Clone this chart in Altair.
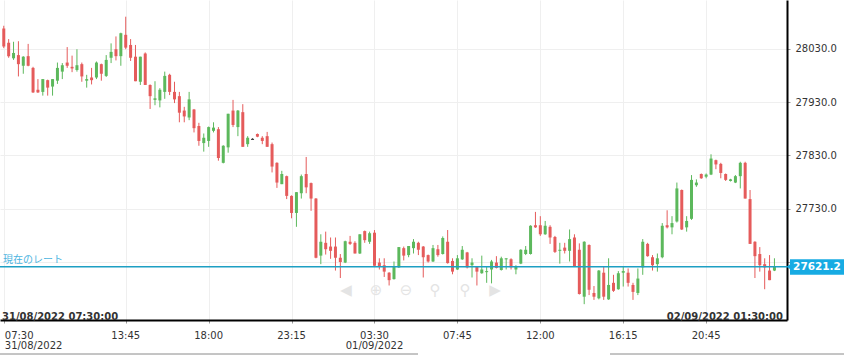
import altair as alt
import pandas as pd

# ---- candle data (15-minute bars, index 1..159) ----
opens = [28068,28041,28012,28018,27998,28016,27994,27953,27949,27971,27959,27970,27987,28004,27996,27990,28001,27970,27976,27976,
         28001,27979,28013,28029,28016,28056,28037,28015,27968,28021,27962,27934,27933,27949,27981,27949,27941,27914,27901,27916,
         27885,27853,27857,27876,27879,27816,27845,27914,27883,27911,27851,27861,27870,27863,27866,27851,27816,27776,27791,27754,
         27722,27759,27795,27778,27749,27642,27666,27659,27659,27638,27629,27668,27666,27646,27688,27668,27685,27629,27624,27610,
         27598,27620,27656,27643,27656,27666,27659,27643,27631,27654,27645,27668,27632,27616,27635,27648,27624,27621,27609,27612,
         27616,27629,27615,27636,27635,27616,27627,27645,27645,27699,27699,27682,27696,27677,27651,27657,27651,27676,27653,27565,
         27662,27572,27562,27610,27560,27591,27579,27610,27610,27587,27572,27620,27664,27639,27626,27639,27699,27695,27706,27765,
         27695,27711,27774,27795,27790,27794,27821,27814,27795,27782,27779,27791,27816,27748,27668,27645,27626,27614,27614]
highs = [28073,28048,28043,28044,28016,28039,27996,27973,27973,27972,27973,28004,28003,28033,28017,28029,28004,27981,27994,28006,
         28002,28018,28040,28053,28060,28090,28048,28037,28015,28023,27963,27969,27956,27987,27983,27968,27949,27921,27949,27917,
         27891,27871,27884,27892,27883,27849,27908,27934,27915,27926,27866,27862,27871,27866,27874,27854,27817,27801,27792,27755,
         27761,27794,27827,27779,27750,27682,27687,27676,27676,27645,27670,27679,27669,27682,27689,27687,27690,27637,27637,27611,
         27631,27658,27659,27660,27673,27668,27660,27644,27662,27662,27678,27690,27637,27643,27660,27649,27637,27622,27642,27621,
         27634,27641,27640,27637,27637,27624,27654,27660,27699,27724,27716,27707,27699,27679,27666,27666,27691,27682,27665,27669,
         27663,27585,27615,27622,27637,27606,27613,27622,27618,27591,27618,27673,27666,27643,27646,27703,27727,27716,27779,27766,
         27716,27793,27785,27796,27796,27832,27822,27816,27796,27786,27793,27818,27818,27765,27669,27658,27637,27643,27637]
lows = [28031,28013,28009,27978,27983,27997,27947,27947,27942,27942,27942,27964,27973,27994,27986,27987,27968,27957,27963,27973,
        27970,27977,28003,28008,27998,28029,28007,27969,27962,27962,27917,27924,27920,27936,27943,27928,27892,27892,27896,27873,
        27848,27837,27846,27873,27820,27815,27835,27883,27866,27846,27846,27860,27864,27851,27846,27798,27769,27776,27748,27712,
        27696,27749,27759,27726,27637,27626,27644,27636,27614,27600,27628,27662,27646,27645,27666,27664,27623,27616,27602,27586,
        27597,27619,27633,27639,27646,27643,27601,27629,27630,27640,27644,27627,27607,27615,27634,27618,27601,27586,27608,27591,
        27590,27618,27614,27616,27616,27607,27626,27643,27644,27694,27679,27681,27664,27647,27627,27646,27631,27621,27569,27551,
        27568,27559,27560,27559,27559,27574,27578,27584,27584,27559,27568,27606,27640,27614,27612,27637,27693,27682,27704,27690,
        27687,27709,27771,27786,27787,27793,27804,27787,27782,27781,27778,27768,27749,27664,27600,27612,27579,27596,27613]
closes = [28034,28016,28022,28001,28015,27998,27948,27948,27973,27957,27973,27994,27999,27998,27993,27999,27978,27973,27971,28004,
          27983,28009,28024,28016,28059,28032,28013,27969,28015,27962,27941,27937,27953,27979,27949,27935,27910,27903,27935,27881,
          27857,27863,27883,27882,27825,27848,27908,27887,27914,27846,27863,27861,27865,27857,27846,27809,27779,27795,27754,27722,
          27761,27791,27770,27749,27638,27668,27654,27651,27638,27630,27669,27664,27646,27682,27671,27684,27623,27621,27612,27596,
          27621,27658,27642,27660,27668,27653,27639,27631,27656,27643,27675,27628,27612,27637,27653,27620,27629,27612,27616,27613,
          27631,27619,27637,27637,27620,27622,27653,27653,27698,27695,27682,27698,27676,27649,27653,27651,27673,27621,27570,27668,
          27578,27565,27614,27565,27587,27576,27609,27613,27591,27574,27599,27668,27641,27624,27637,27698,27695,27703,27768,27691,
          27707,27784,27779,27787,27794,27824,27813,27797,27784,27785,27791,27816,27749,27664,27641,27624,27620,27596,27621.2]
index = list(range(1, len(opens) + 1))

# ---- axis labels / annotations ----
tick_index = [1, 26, 43, 60, 77, 94, 111, 128, 145]
tick_labels = ["07:30", "13:45", "18:00", "23:15", "03:30", "07:45", "12:00", "16:15", "20:45"]
date_index = [1, 77]
date_labels = ["31/08/2022", "01/09/2022"]
y_ticks = [27630, 27730, 27830, 27930, 28030]
current_price = 27621.2
current_label = "現在のレート"
start_stamp = "31/08/2022 07:30:00"
end_stamp = "02/09/2022 01:30:00"

GREEN = "#5cb85c"
RED = "#e55b5b"
CYAN_LINE = "#1e9fc3"
CYAN_BOX = "#17abe3"
FONT = "DejaVu Sans"

df = pd.DataFrame({"i": index, "o": opens, "h": highs, "l": lows, "c": closes})

xs = alt.Scale(domain=[1.25, 160.55], nice=False, zero=False)
ys = alt.Scale(domain=[27521.3, 28121.3], nice=False, zero=False)

x_axis = alt.Axis(values=tick_index, labels=False, title=None, grid=True, gridColor="#efefef",
                  domainColor="#000000", domainWidth=2, tickColor="#999999", tickSize=3)
y_axis = alt.Axis(orient="right", values=y_ticks, title=None, grid=True, gridColor="#efefef",
                  domainColor="#000000", domainWidth=2, tickColor="#999999", tickSize=3,
                  labelFont=FONT, labelFontSize=10, labelColor="#333333", labelPadding=5,
                  labelExpr="datum.value == 27630 ? '' : format(datum.value, '.1f')")

color = alt.Color("dir:N", scale=alt.Scale(domain=["up", "down", "flat"], range=[GREEN, RED, "#333333"]), legend=None)

base = alt.Chart(df).transform_calculate(
    dir="datum.c > datum.o ? 'up' : (datum.c < datum.o ? 'down' : 'flat')",
    top="max(datum.o, datum.c)",
    bot="min(datum.o, datum.c)",
).transform_calculate(
    bot2="datum.top - datum.bot < 2 ? datum.top - 2 : datum.bot"
)

wick = base.mark_rule(strokeWidth=1, clip=True).encode(
    x=alt.X("i:Q", scale=xs, axis=x_axis),
    y=alt.Y("l:Q", scale=ys, axis=y_axis),
    y2="h:Q",
    color=color,
)
body = base.mark_bar(size=3, clip=True).encode(
    x=alt.X("i:Q", scale=xs, axis=x_axis),
    y=alt.Y("bot2:Q", scale=ys, axis=y_axis),
    y2="top:Q",
    color=color,
)

cur = pd.DataFrame({"p": [current_price], "t": [f"{current_price:.1f}"], "name": [current_label]})
cur_base = alt.Chart(cur)
cur_line = cur_base.mark_rule(color=CYAN_LINE, strokeWidth=1.5).encode(
    y=alt.Y("p:Q", scale=ys, axis=y_axis), x=alt.value(0), x2=alt.value(787))
cur_box = cur_base.transform_calculate(p1="datum.p - 15", p2="datum.p + 14").mark_rect(color=CYAN_BOX).encode(
    y=alt.Y("p1:Q", scale=ys, axis=y_axis), y2="p2:Q", x=alt.value(790), x2=alt.value(844))
cur_notch = cur_base.mark_point(shape="triangle-left", filled=True, size=40, color=CYAN_BOX, opacity=1).encode(
    y=alt.Y("p:Q", scale=ys, axis=y_axis), x=alt.value(789))
cur_text = cur_base.mark_text(font=FONT, fontSize=10.5, fontWeight="bold", color="white", align="center",
                              baseline="middle").encode(
    y=alt.Y("p:Q", scale=ys, axis=y_axis), x=alt.value(817), text="t:N")
cur_name = cur_base.mark_text(font="Noto Sans CJK JP", fontSize=10, color="#4cb5df", align="left",
                              baseline="bottom", dy=-2).encode(
    y=alt.Y("p:Q", scale=ys, axis=y_axis), x=alt.value(3), text="name:N")

ticks_df = pd.DataFrame({"i": tick_index, "t": tick_labels})
tick_first = alt.Chart(ticks_df.iloc[:1]).mark_text(font=FONT, fontSize=10, color="#333333", align="left", dx=1).encode(
    x=alt.X("i:Q", scale=xs, axis=x_axis), y=alt.value(336), text="t:N")
tick_rest = alt.Chart(ticks_df.iloc[1:]).mark_text(font=FONT, fontSize=10, color="#333333", align="center").encode(
    x=alt.X("i:Q", scale=xs, axis=x_axis), y=alt.value(336), text="t:N")
dates_df = pd.DataFrame({"i": date_index, "t": date_labels})
date_first = alt.Chart(dates_df.iloc[:1]).mark_text(font=FONT, fontSize=10, color="#333333", align="left", dx=1).encode(
    x=alt.X("i:Q", scale=xs, axis=x_axis), y=alt.value(346), text="t:N")
date_rest = alt.Chart(dates_df.iloc[1:]).mark_text(font=FONT, fontSize=10, color="#333333", align="center").encode(
    x=alt.X("i:Q", scale=xs, axis=x_axis), y=alt.value(346), text="t:N")

stamps = pd.DataFrame({"t": [start_stamp, end_stamp]})
stamp_left = alt.Chart(stamps.iloc[:1]).mark_text(font=FONT, fontSize=10, fontWeight="bold", color="#333333",
                                                   align="left").encode(x=alt.value(2), y=alt.value(317), text="t:N")
stamp_right = alt.Chart(stamps.iloc[1:]).mark_text(font=FONT, fontSize=10, fontWeight="bold", color="#333333",
                                                   align="right").encode(x=alt.value(783), y=alt.value(317), text="t:N")

nav = pd.DataFrame({"t": ["◀", "⊕", "⊖", "⚲", "⚲", "▶"], "px": [346, 376, 406, 435, 465, 495]})
nav_icons = alt.Chart(nav).mark_text(font=FONT, fontSize=15, color="#e4e4e4", align="center", baseline="middle").encode(
    x=alt.X("px:Q", scale=None), y=alt.value(290), text="t:N")

gray_a = alt.Chart(pd.DataFrame({"k": [0]})).mark_rule(color="#8a8a8a", strokeWidth=1).encode(
    x=alt.value(0), x2=alt.value(418), y=alt.value(354))
gray_b = alt.Chart(pd.DataFrame({"k": [0]})).mark_rule(color="#8a8a8a", strokeWidth=1).encode(
    x=alt.value(610), x2=alt.value(844), y=alt.value(354))

chart = alt.layer(
    wick, body, nav_icons, cur_line, cur_name, cur_notch, cur_box, cur_text,
    tick_first, tick_rest, date_first, date_rest, stamp_left, stamp_right, gray_a, gray_b,
).properties(
    width=787, height=320,
    autosize=alt.AutoSizeParams(type="none"),
    padding={"left": 0, "top": 0, "right": 57, "bottom": 35},
    background="white",
).configure_view(strokeWidth=0)

chart.save("out.html", embed_options={"renderer": "svg", "actions": False})
